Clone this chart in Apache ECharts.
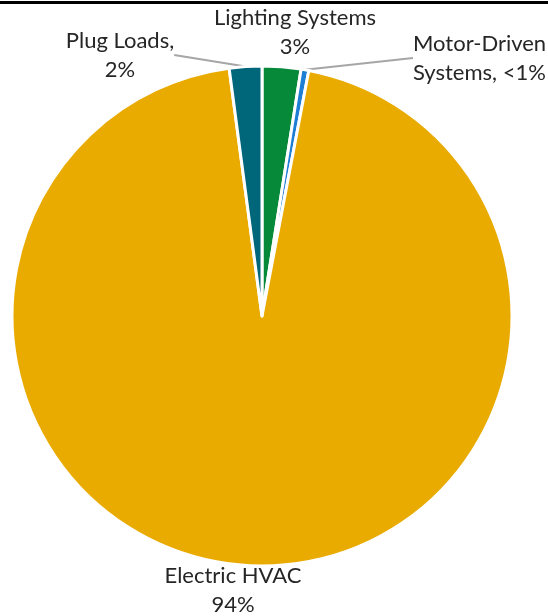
<!DOCTYPE html>
<html><head><meta charset="utf-8">
<script src="https://cdn.jsdelivr.net/npm/echarts@6/dist/echarts.min.js"></script>
<style>html,body{margin:0;padding:0;background:#fff}#c{width:548px;height:616px}</style>
</head><body><div id="c"></div>
<script>
const categories = ['Lighting Systems', 'Motor-Driven Systems', 'Electric HVAC', 'Plug Loads'];
const values = [2.5, 0.5, 94.9, 2.1];
const labelTexts = ['Lighting Systems\n3%', 'Motor-Driven\nSystems, <1%', 'Electric HVAC\n94%', 'Plug Loads,\n2%'];
const colors = ['#07893A', '#1E7ED4', '#E9AB00', '#00677A'];

const labelPos = [
  {x: 295, y: 32, align: 'center', line: false},
  {x: 413, y: 58, align: 'left', line: true},
  {x: 233, y: 590, align: 'center', line: false},
  {x: 120, y: 55, align: 'center', line: true}
];

const chart = echarts.init(document.getElementById('c'), null, {renderer: 'canvas'});
chart.setOption({
  animation: false,
  graphic: [{type: 'rect', shape: {x: 0, y: 1, width: 548, height: 3}, style: {fill: '#000'}}],
  series: [{
    type: 'pie',
    center: [262, 316],
    radius: [0, 250],
    startAngle: 90,
    clockwise: true,
    avoidLabelOverlap: false,
    itemStyle: {borderColor: '#fff', borderWidth: 3},
    label: {
      show: true,
      position: 'outside',
      color: '#262626',
      fontFamily: 'Lato',
      fontSize: 22,
      lineHeight: 29,
      formatter: p => labelTexts[p.dataIndex]
    },
    labelLine: {show: true, length: 2, length2: 0, smooth: false, lineStyle: {color: '#A6A6A6', width: 2}},
    labelLayout: function (params) {
      const lp = labelPos[params.dataIndex];
      return {x: lp.x, y: lp.y, align: lp.align, verticalAlign: 'middle'};
    },
    data: categories.map((name, i) => ({
      name: name,
      value: values[i],
      itemStyle: {color: colors[i]},
      labelLine: {show: labelPos[i].line}
    }))
  }]
});
</script></body></html>
